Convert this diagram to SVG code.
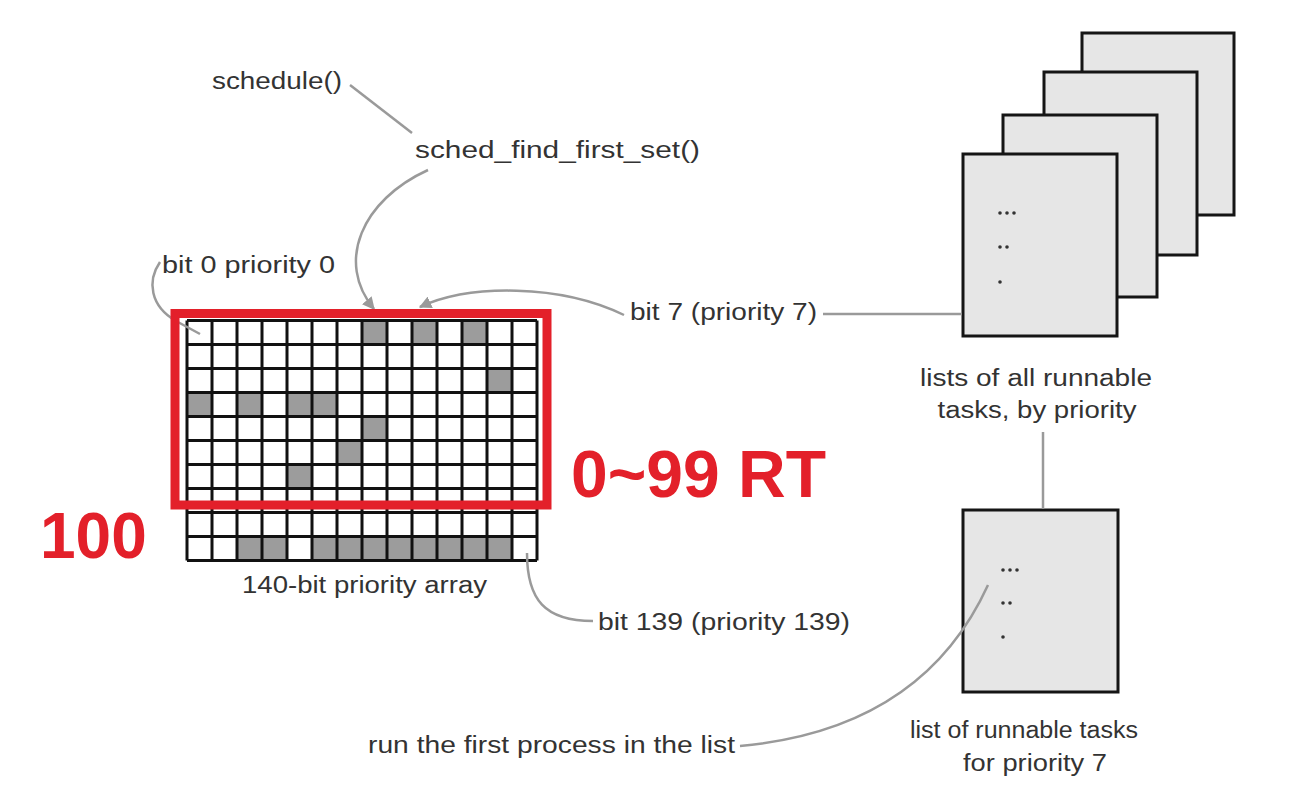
<svg xmlns="http://www.w3.org/2000/svg" width="1298" height="810" viewBox="0 0 1298 810">
<style>
.t{font-family:"Liberation Sans",Arial,sans-serif;font-size:23px;fill:#333}
.red{font-family:"Liberation Sans",Arial,sans-serif;font-weight:bold;fill:#e3202a}
.con{fill:none;stroke:#9a9a9a;stroke-width:2.5}
.box{fill:#e6e6e6;stroke:#151515;stroke-width:3}
.on{fill:#9c9c9c}
.dot{fill:#333}
</style>
<defs>
<marker id="arr" viewBox="0 0 10 10" refX="9" refY="5" markerWidth="5" markerHeight="5" orient="auto" markerUnits="strokeWidth">
<path d="M0,0 L10,5 L0,10 z" fill="#9a9a9a"/>
</marker>
</defs>
<rect width="1298" height="810" fill="#ffffff"/>

<g id="priority-array">
<rect x="187" y="320.5" width="350" height="240" fill="#fff"/>
<rect class="on" x="362" y="320.5" width="25" height="24"/>
<rect class="on" x="412" y="320.5" width="25" height="24"/>
<rect class="on" x="462" y="320.5" width="25" height="24"/>
<rect class="on" x="487" y="368.5" width="25" height="24"/>
<rect class="on" x="187" y="392.5" width="25" height="24"/>
<rect class="on" x="237" y="392.5" width="25" height="24"/>
<rect class="on" x="287" y="392.5" width="25" height="24"/>
<rect class="on" x="312" y="392.5" width="25" height="24"/>
<rect class="on" x="362" y="416.5" width="25" height="24"/>
<rect class="on" x="337" y="440.5" width="25" height="24"/>
<rect class="on" x="287" y="464.5" width="25" height="24"/>
<rect class="on" x="237" y="536.5" width="25" height="24"/>
<rect class="on" x="262" y="536.5" width="25" height="24"/>
<rect class="on" x="312" y="536.5" width="175" height="24"/>
<rect class="on" x="487" y="536.5" width="25" height="24"/>
<path fill="none" stroke="#111" stroke-width="3" d="M187,320.5V560.5M212,320.5V560.5M237,320.5V560.5M262,320.5V560.5M287,320.5V560.5M312,320.5V560.5M337,320.5V560.5M362,320.5V560.5M387,320.5V560.5M412,320.5V560.5M437,320.5V560.5M462,320.5V560.5M487,320.5V560.5M512,320.5V560.5M537,320.5V560.5M187,320.5H537M187,344.5H537M187,368.5H537M187,392.5H537M187,416.5H537M187,440.5H537M187,464.5H537M187,488.5H537M187,512.5H537M187,536.5H537M187,560.5H537"/>
<text class="t" x="242" y="593" textLength="245" lengthAdjust="spacingAndGlyphs">140-bit priority array</text>
</g>

<g id="task-lists">
<rect class="box" x="1082" y="33" width="152" height="182"/>
<rect class="box" x="1044" y="72" width="153" height="183"/>
<rect class="box" x="1003" y="115" width="154" height="182"/>
<rect class="box" x="963" y="154" width="154" height="182"/>
<circle class="dot" cx="1000" cy="213" r="1.8"/><circle class="dot" cx="1007" cy="213" r="1.8"/><circle class="dot" cx="1014" cy="213" r="1.8"/>
<circle class="dot" cx="1000" cy="247" r="1.8"/><circle class="dot" cx="1007" cy="247" r="1.8"/>
<circle class="dot" cx="1000" cy="282" r="1.8"/>
<text class="t" x="1036" y="386" text-anchor="middle" textLength="232" lengthAdjust="spacingAndGlyphs">lists of all runnable</text>
<text class="t" x="1037" y="418" text-anchor="middle" textLength="199" lengthAdjust="spacingAndGlyphs">tasks, by priority</text>
</g>

<g id="priority7-list">
<rect class="box" x="963" y="510" width="155" height="182"/>
<circle class="dot" cx="1003" cy="570" r="1.8"/><circle class="dot" cx="1010" cy="570" r="1.8"/><circle class="dot" cx="1017" cy="570" r="1.8"/>
<circle class="dot" cx="1003" cy="603" r="1.8"/><circle class="dot" cx="1010" cy="603" r="1.8"/>
<circle class="dot" cx="1003" cy="637" r="1.8"/>
<text class="t" x="1024" y="738" text-anchor="middle" textLength="228" lengthAdjust="spacingAndGlyphs">list of runnable tasks</text>
<text class="t" x="1035" y="771" text-anchor="middle" textLength="144" lengthAdjust="spacingAndGlyphs">for priority 7</text>
</g>

<g id="connectors">
<path class="con" d="M350,85 L412,133"/>
<path class="con" d="M428,170 C362,200 335,262 374,309" marker-end="url(#arr)"/>
<path class="con" d="M624,315 C560,284 470,284 420,307" marker-end="url(#arr)"/>
<path class="con" d="M160,262 C147,281 150,306 176,321 L200,334"/>
<path class="con" d="M527,553 C527,600 545,621 593,621"/>
<path class="con" d="M740,746 C850,736 940,690 988,585"/>
<path class="con" d="M823,314 L962,314"/>
<path class="con" d="M1043,432 L1043,509"/>
</g>

<g id="rt-highlight">
<rect x="175" y="313.5" width="372" height="191.5" fill="none" stroke="#e3202a" stroke-width="9"/>
<text class="red" x="571" y="497" font-size="66">0~99 RT</text>
<text class="red" x="40" y="558" font-size="64">100</text>
</g>

<g id="label-schedule"><text class="t" x="212" y="89" textLength="130" lengthAdjust="spacingAndGlyphs">schedule()</text></g>
<g id="label-sched-find"><text class="t" x="415" y="158" textLength="285" lengthAdjust="spacingAndGlyphs">sched_find_first_set()</text></g>
<g id="label-bit0"><text class="t" x="162" y="273" textLength="173" lengthAdjust="spacingAndGlyphs">bit 0 priority 0</text></g>
<g id="label-bit7"><text class="t" x="630" y="320" textLength="187" lengthAdjust="spacingAndGlyphs">bit 7 (priority 7)</text></g>
<g id="label-bit139"><text class="t" x="598" y="630" textLength="252" lengthAdjust="spacingAndGlyphs">bit 139 (priority 139)</text></g>
<g id="label-run"><text class="t" x="368" y="753" textLength="367" lengthAdjust="spacingAndGlyphs">run the first process in the list</text></g>
</svg>
